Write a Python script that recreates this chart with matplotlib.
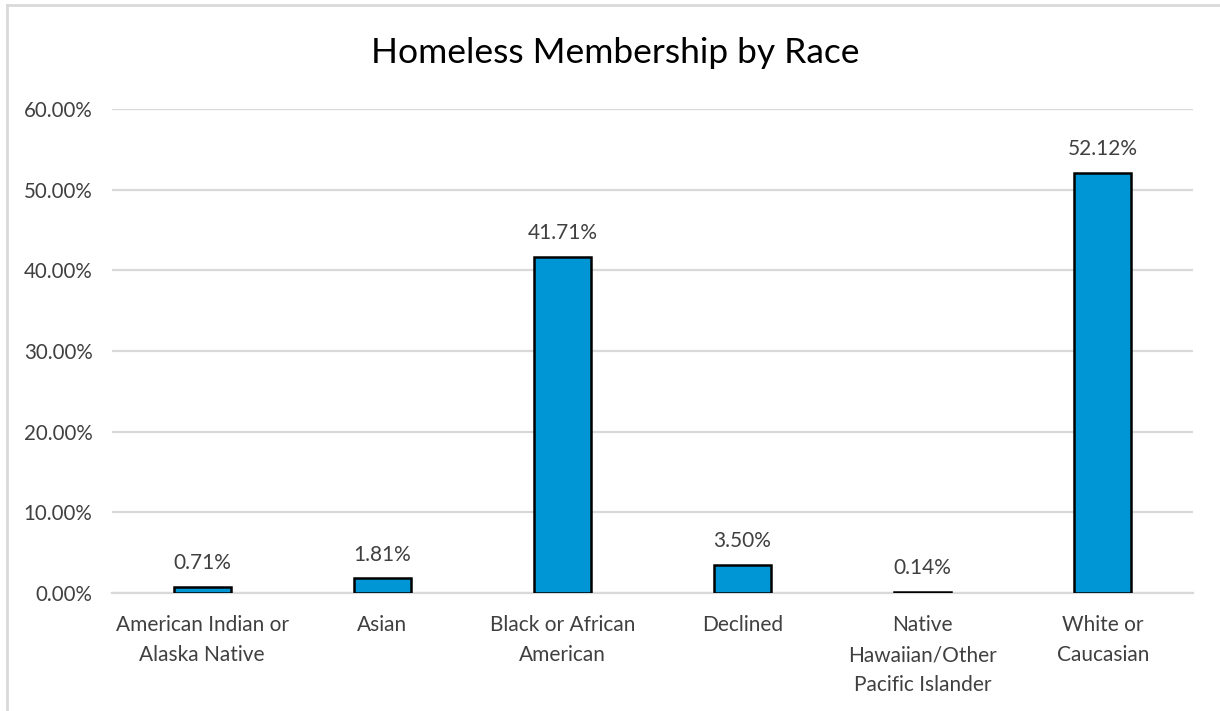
import matplotlib
matplotlib.use("Agg")
import matplotlib.pyplot as plt
from matplotlib.lines import Line2D
from matplotlib.ticker import FuncFormatter, MultipleLocator

categories = [
    "American Indian or\nAlaska Native",
    "Asian",
    "Black or African\nAmerican",
    "Declined",
    "Native\nHawaiian/Other\nPacific Islander",
    "White or\nCaucasian",
]
shares = [0.71, 1.81, 41.71, 3.50, 0.14, 52.12]
title = "Homeless Membership by Race"

plt.rcParams["font.family"] = ["Lato", "DejaVu Sans"]

W, H = 1220, 711
fig = plt.figure(figsize=(W / 100, H / 100), dpi=100)
fig.patch.set_facecolor("white")

# plot area in pixels: left 112, right 1193, top 109 (60%), bottom 593 (0%)
left, right, top, bottom = 112, 1193, 109, 593
ax = fig.add_axes([left / W, 1 - bottom / H, (right - left) / W, (bottom - top) / H])

x = list(range(len(categories)))
ax.bar(x, shares, width=0.316, color="#0096d6", edgecolor="black", linewidth=1.8, zorder=3)

for xi, v in zip(x, shares):
    ax.annotate(f"{v:.2f}%", (xi, v), xytext=(0, 10), textcoords="offset points",
                ha="center", va="bottom", fontsize=15, color="#404040")

ax.set_xlim(-0.5, len(categories) - 0.5)
ax.set_ylim(0, 60)
ax.yaxis.set_major_locator(MultipleLocator(10))
ax.yaxis.set_major_formatter(FuncFormatter(lambda v, p: f"{v:.2f}%"))
ax.grid(axis="y", color="#d9d9d9", linewidth=1.6, zorder=0)
ax.set_axisbelow(True)

for s in ["top", "right", "left"]:
    ax.spines[s].set_visible(False)
ax.spines["bottom"].set_color("#d9d9d9")
ax.spines["bottom"].set_linewidth(1.6)

ax.set_xticks(x)
ax.set_xticklabels(categories, fontsize=15, color="#404040", linespacing=1.62)
ax.tick_params(axis="x", length=0, pad=16)
ax.tick_params(axis="y", length=0, pad=14, labelsize=14.8, labelcolor="#404040")

fig.text(615 / W, 1 - 53 / H, title, ha="center", va="center", fontsize=25.5, color="black")

# light frame along top and left edges
fig.add_artist(Line2D([7 / W, 1], [1 - 5 / H, 1 - 5 / H], transform=fig.transFigure,
                      color="#d9d9d9", linewidth=2))
fig.add_artist(Line2D([7 / W, 7 / W], [0, 1 - 5 / H], transform=fig.transFigure,
                      color="#d9d9d9", linewidth=2))

fig.savefig("out.png", dpi=100, facecolor="white")
